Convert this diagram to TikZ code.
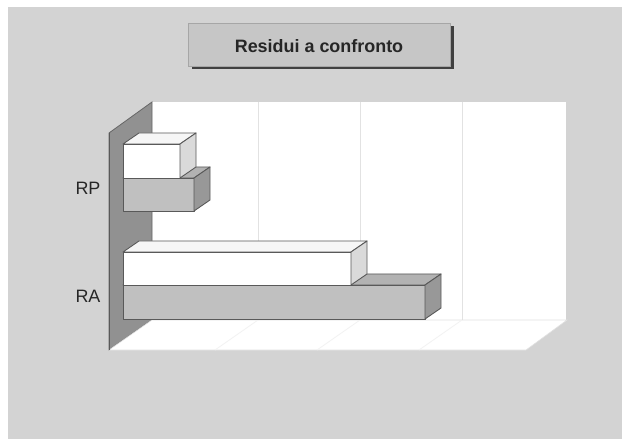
\documentclass[tikz,border=0pt]{standalone}
\usepackage{fontspec}
\setmainfont{Liberation Sans}
\definecolor{bgcol}{RGB}{211,211,211}
\definecolor{titlecol}{RGB}{198,198,198}
\definecolor{wallcol}{RGB}{145,145,145}
\definecolor{gridcol}{RGB}{226,226,226}
\definecolor{whitefront}{RGB}{255,255,255}
\definecolor{whitetop}{RGB}{246,246,246}
\definecolor{whiteside}{RGB}{218,218,218}
\definecolor{grayfront}{RGB}{192,192,192}
\definecolor{graytop}{RGB}{178,178,178}
\definecolor{grayside}{RGB}{152,152,152}
\tikzset{
	edge/.style={draw=black!65, line width=0.9pt, line join=round},
	label/.style={font=\fontsize{18}{20}\selectfont, text=black!85}
}
% #1,#2 front top left, #3,#4 front bottom right, #5 colour set
\newcommand\cuboid[5]{%
	\filldraw[edge, fill=#5front] (#1,#2) rectangle (#3,#4);
	\filldraw[edge, fill=#5top] (#1,#2) -- ++(16,-11) -- (#3+16,#2-11) -- (#3,#2) -- cycle;
	\filldraw[edge, fill=#5side] (#3,#2) -- (#3+16,#2-11) -- (#3+16,#4-11) -- (#3,#4) -- cycle;
}
\begin{document}
\begin{tikzpicture}[x=1bp, y=-1bp]
	\useasboundingbox (0,0) rectangle (622,439);
	\fill[white] (0,0) rectangle (622,439);
	\fill[bgcol] (8,7) rectangle (622,439);

	% title
	\draw[black!75, line width=3pt] (192,68) -- (452,68) -- (452,26);
	\filldraw[fill=titlecol, draw=black!35, line width=0.6pt] (188,23) rectangle (450,66);
	\node[font=\fontsize{18}{20}\selectfont\bfseries, text=black!85] (title) at (319,46) {Residui a confronto};

	% walls
	\fill[white] (152,102) rectangle (566,320);
	\foreach \gx in {258,360,462}
		\draw[gridcol, line width=1pt] (\gx,102) -- (\gx,320);
	\filldraw[fill=wallcol, draw=black!60, line width=0.8pt] (109,133) -- (152,102) -- (152,320) -- (109,350) -- cycle;
	\filldraw[fill=white, draw=black!12, line width=0.6pt] (109,350) -- (152,320) -- (567,320) -- (526,350) -- cycle;
	\foreach \gx in {258,360,462}
		\draw[black!5, line width=0.8pt] (\gx,320) -- (\gx-43,350);
	\draw[black!65, line width=1pt] (109,133) -- (109,350);

	% bars
	\cuboid{123}{178}{194}{211}{gray}
	\cuboid{123}{144}{180}{178}{white}
	\cuboid{123}{285}{425}{319}{gray}
	\cuboid{123}{252}{351}{285}{white}

	% labels
	\node[label] (rp) at (88,188) {RP};
	\node[label] (ra) at (88,296) {RA};
\end{tikzpicture}
\end{document}
